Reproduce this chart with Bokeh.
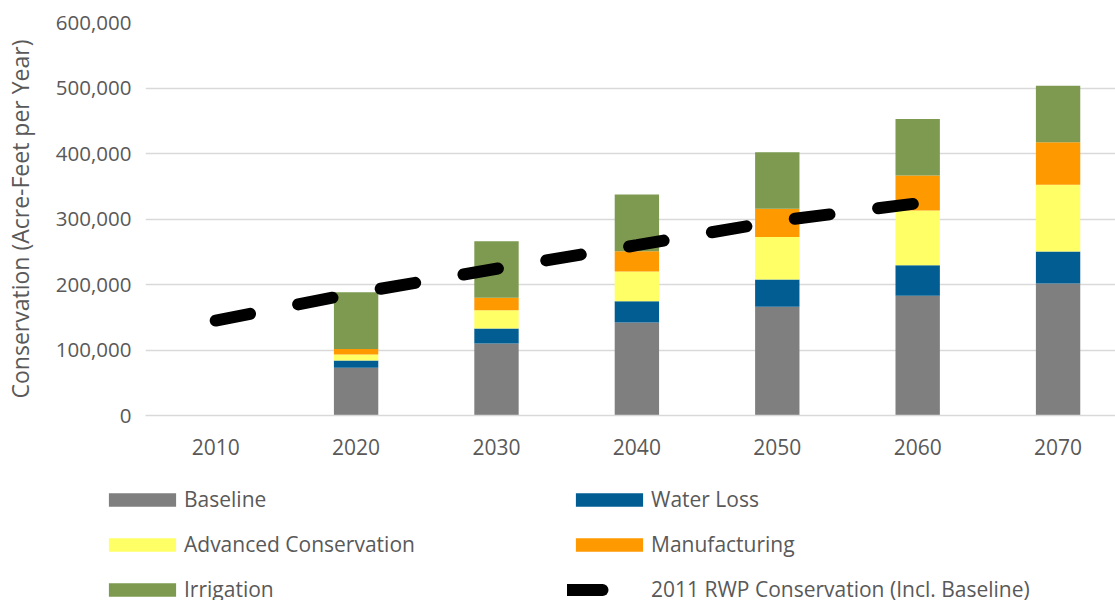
from bokeh.plotting import figure
from bokeh.layouts import column
from bokeh.models import (ColumnDataSource, FixedTicker, NumeralTickFormatter,
                          Legend, LegendItem, Range1d)
from bokeh.embed import file_html
from bokeh.resources import INLINE

# ---- data ----
years = [2010, 2020, 2030, 2040, 2050, 2060, 2070]
baseline = [0, 73000, 110000, 142000, 166000, 183000, 201500]
water_loss = [0, 11000, 23000, 32500, 41500, 46500, 49000]
advanced_conservation = [0, 9000, 27500, 45300, 65200, 83300, 101800]
manufacturing = [0, 8500, 19400, 31100, 42800, 53500, 65000]
irrigation = [0, 86500, 86000, 86500, 86500, 86500, 86000]

rwp_years = [2010, 2020, 2030, 2040, 2050, 2060]
rwp_2011 = [145000, 187000, 224000, 260000, 297000, 324000]

series_names = ["Baseline", "Water Loss", "Advanced Conservation",
                "Manufacturing", "Irrigation"]
series_keys = ["baseline", "water_loss", "advanced_conservation",
               "manufacturing", "irrigation"]
series_colors = ["#7F7F7F", "#025E92", "#FFFF66", "#FF9900", "#7D9A50"]
line_name = "2011 RWP Conservation (Incl. Baseline)"
y_ticks = [0, 100000, 200000, 300000, 400000, 500000, 600000]

FONT = "Open Sans"
TXT = "#595959"
LINE_STYLE = dict(line_color="black", line_width=12, line_dash="35 49",
                  line_cap="round")

source = ColumnDataSource(dict(
    year=years, baseline=baseline, water_loss=water_loss,
    advanced_conservation=advanced_conservation,
    manufacturing=manufacturing, irrigation=irrigation))
line_src = ColumnDataSource(dict(year=rwp_years, value=rwp_2011))

# ---- main chart ----
p = figure(width=1115, height=465, frame_width=970, frame_height=393,
           min_border_left=145, min_border_right=0, min_border_top=22,
           min_border_bottom=50, output_backend="svg", toolbar_location=None,
           x_range=Range1d(2005, 2074.09), y_range=Range1d(0, 600000))
p.outline_line_color = None
p.background_fill_color = "white"
p.border_fill_color = "white"

bars = p.vbar_stack(series_keys, x="year", width=3.16, color=series_colors,
                    line_color=None, source=source)
ln = p.line("year", "value", source=line_src, **LINE_STYLE)

p.xaxis.ticker = FixedTicker(ticks=years)
p.yaxis.ticker = FixedTicker(ticks=y_ticks)
p.yaxis.formatter = NumeralTickFormatter(format="0,0")
for ax in (p.xaxis[0], p.yaxis[0]):
    ax.major_tick_line_color = None
    ax.minor_tick_line_color = None
    ax.major_label_text_font = FONT
    ax.major_label_text_color = TXT
p.xaxis.major_label_text_font_size = "21px"
p.yaxis.major_label_text_font_size = "20.5px"
p.xaxis.axis_line_color = "#D9D9D9"
p.xaxis.axis_line_width = 1.5
p.xaxis.major_label_standoff = 17
p.yaxis.axis_line_color = None
p.yaxis.major_label_standoff = 8
p.yaxis.axis_label = "Conservation (Acre-Feet per Year)"
p.yaxis.axis_label_text_font = FONT
p.yaxis.axis_label_text_font_size = "23px"
p.yaxis.axis_label_text_font_style = "normal"
p.yaxis.axis_label_text_color = TXT
p.yaxis.axis_label_standoff = 17

p.xgrid.grid_line_color = None
p.ygrid.grid_line_color = "#D9D9D9"
p.ygrid.grid_line_width = 1.5

# ---- legend strip ----
q = figure(width=1115, height=135, frame_width=1115, frame_height=135,
           min_border_left=0, min_border_right=0, min_border_top=0,
           min_border_bottom=0, output_backend="svg",
           toolbar_location=None, x_range=Range1d(0, 1), y_range=Range1d(0, 1))
q.axis.visible = False
q.grid.visible = False
q.outline_line_color = None
q.border_fill_color = "white"
q.background_fill_color = "white"

# legend proxies placed outside the visible range
d = [q.vbar(x=[-5], top=[-4], bottom=[-5], width=0.1, color=c,
            line_color=None) for c in series_colors]
dl = q.line(x=[-5, -4], y=[-5, -5], **LINE_STYLE)

def make_legend(items, loc):
    return Legend(items=items, location=loc, orientation="vertical",
                  glyph_width=84, glyph_height=17, label_standoff=0,
                  spacing=17, padding=0, margin=0,
                  border_line_color=None, background_fill_alpha=0,
                  label_text_font=FONT, label_text_font_size="21px",
                  label_text_color=TXT)

leg1 = make_legend([
    LegendItem(label=series_names[0], renderers=[d[0]]),
    LegendItem(label=series_names[2], renderers=[d[2]]),
    LegendItem(label=series_names[4], renderers=[d[4]]),
], (100, -3))
leg2 = make_legend([
    LegendItem(label=series_names[1], renderers=[d[1]]),
    LegendItem(label=series_names[3], renderers=[d[3]]),
    LegendItem(label=line_name, renderers=[dl]),
], (567, -3))
q.add_layout(leg1, "center")
q.add_layout(leg2, "center")

open("out.html", "w").write(file_html(column(p, q, spacing=0), INLINE))
